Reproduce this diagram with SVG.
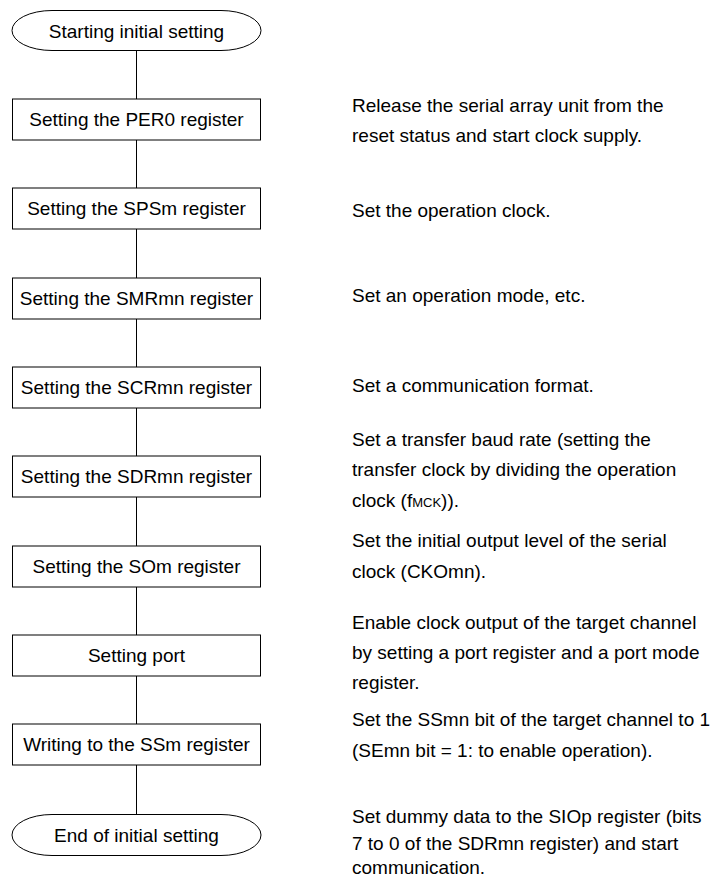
<svg xmlns="http://www.w3.org/2000/svg" width="714" height="880" viewBox="0 0 714 880">
<style>
.bx{fill:#fff;stroke:#000;stroke-width:1}
.t{font-family:"Liberation Sans",Arial,sans-serif;font-size:19px;fill:#000}
.c{text-anchor:middle}
.ln{stroke:#000;stroke-width:1;fill:none}
</style>
<rect width="714" height="880" fill="#fff"/>
<g id="connectors">
<line class="ln" x1="136.5" y1="50" x2="136.5" y2="99"/>
<line class="ln" x1="136.5" y1="140" x2="136.5" y2="188"/>
<line class="ln" x1="136.5" y1="229" x2="136.5" y2="278"/>
<line class="ln" x1="136.5" y1="319" x2="136.5" y2="367"/>
<line class="ln" x1="136.5" y1="408" x2="136.5" y2="456"/>
<line class="ln" x1="136.5" y1="497" x2="136.5" y2="546"/>
<line class="ln" x1="136.5" y1="587" x2="136.5" y2="635"/>
<line class="ln" x1="136.5" y1="676" x2="136.5" y2="724"/>
<line class="ln" x1="136.5" y1="765" x2="136.5" y2="814"/>
</g>
<g id="start">
<path class="bx" d="M52,10.5 H221 A40 20 0 0 1 221,50.5 H52 A40 20 0 0 1 52,10.5 Z"/>
<text class="t c" x="136.5" y="37.5">Starting initial setting</text>
</g>
<g id="per0">
<rect class="bx" x="12.5" y="99" width="248" height="41"/>
<text class="t c" x="136.5" y="126">Setting the PER0 register</text>
</g>
<g id="spsm">
<rect class="bx" x="12.5" y="188" width="248" height="41"/>
<text class="t c" x="136.5" y="215">Setting the SPSm register</text>
</g>
<g id="smrmn">
<rect class="bx" x="12.5" y="278" width="248" height="41"/>
<text class="t c" x="136.5" y="305">Setting the SMRmn register</text>
</g>
<g id="scrmn">
<rect class="bx" x="12.5" y="367" width="248" height="41"/>
<text class="t c" x="136.5" y="394">Setting the SCRmn register</text>
</g>
<g id="sdrmn">
<rect class="bx" x="12.5" y="456" width="248" height="41"/>
<text class="t c" x="136.5" y="483">Setting the SDRmn register</text>
</g>
<g id="som">
<rect class="bx" x="12.5" y="546" width="248" height="41"/>
<text class="t c" x="136.5" y="573">Setting the SOm register</text>
</g>
<g id="port">
<rect class="bx" x="12.5" y="635" width="248" height="41"/>
<text class="t c" x="136.5" y="662">Setting port</text>
</g>
<g id="ssm">
<rect class="bx" x="12.5" y="724" width="248" height="41"/>
<text class="t c" x="136.5" y="751">Writing to the SSm register</text>
</g>
<g id="end">
<path class="bx" d="M52,814.5 H221 A40 20.5 0 0 1 221,855.5 H52 A40 20.5 0 0 1 52,814.5 Z"/>
<text class="t c" x="136.5" y="842">End of initial setting</text>
</g>
<g id="notes">
<text class="t" x="352" y="111.5">Release the serial array unit from the</text>
<text class="t" x="352" y="142">reset status and start clock supply.</text>
<text class="t" x="352" y="216.5">Set the operation clock.</text>
<text class="t" x="352" y="301.5">Set an operation mode, etc.</text>
<text class="t" x="352" y="391.5">Set a communication format.</text>
<text class="t" x="352" y="445.5">Set a transfer baud rate (setting the</text>
<text class="t" x="352" y="476">transfer clock by dividing the operation</text>
<text class="t" x="352" y="506.5">clock (f<tspan font-size="13">MCK</tspan>)).</text>
<text class="t" x="352" y="547">Set the initial output level of the serial</text>
<text class="t" x="352" y="578">clock (CKOmn).</text>
<text class="t" x="352" y="628.5">Enable clock output of the target channel</text>
<text class="t" x="352" y="658.5">by setting a port register and a port mode</text>
<text class="t" x="352" y="689">register.</text>
<text class="t" x="352" y="726">Set the SSmn bit of the target channel to 1</text>
<text class="t" x="352" y="756.5">(SEmn bit = 1: to enable operation).</text>
<text class="t" x="352" y="822.5">Set dummy data to the SIOp register (bits</text>
<text class="t" x="352" y="849.5">7 to 0 of the SDRmn register) and start</text>
<text class="t" x="352" y="874">communication.</text>
</g>
</svg>
